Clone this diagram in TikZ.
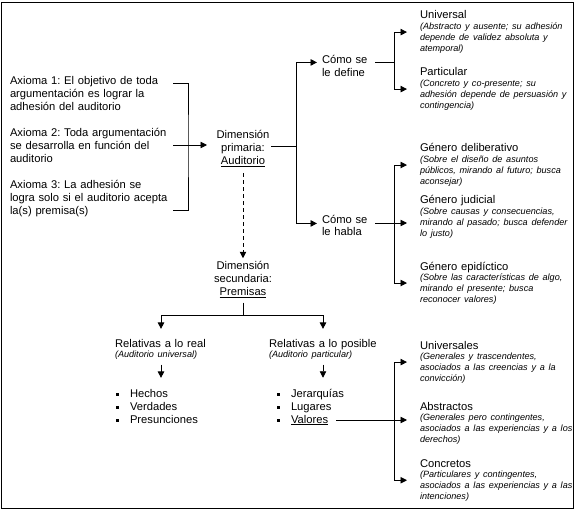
\documentclass[tikz,border=0pt]{standalone}
\usepackage{fontspec}
\setmainfont{Liberation Sans}
\usetikzlibrary{arrows.meta,calc}
\newcommand\mainf{\fontsize{11.2}{13}\selectfont}
\newcommand\descf{\fontsize{9.1}{10.8}\selectfont\itshape}
\newcommand\bsq{\rule[1.5pt]{3pt}{3pt}\hspace{11pt}}
\frenchspacing
\begin{document}
\begin{tikzpicture}[x=1pt,y=-1pt,
  every node/.style={inner sep=0pt, outer sep=0pt},
  txt/.style={anchor=base west, align=left, font=\mainf},
  ctr/.style={anchor=base, align=center, font=\mainf},
  item/.style={anchor=base west, align=left, text width=154pt, font=\mainf},
  ln/.style={line width=0.9pt},
  arr/.style={ln, -{Triangle[length=6.5pt,width=6.5pt]}},
]
\useasboundingbox (0,0) rectangle (578,513);
\draw[line width=1pt] (1.5,2.5) rectangle (573,508);

% left column
\node[txt, text width=163pt] (ax1) at (10,84.5) {Axioma 1: El objetivo de toda\\argumentación es lograr la\\adhesión del auditorio};
\node[txt, text width=163pt] (ax2) at (10,136.5) {Axioma 2: Toda argumentación\\se desarrolla en función del\\auditorio};
\node[txt, text width=163pt] (ax3) at (10,189) {Axioma 3: La adhesión se\\logra solo si el auditorio acepta\\la(s) premisa(s)};

\node[ctr, text width=56pt] (prim) at (243,139) {Dimensión\\primaria:\\\underline{Auditorio}};
\node[ctr, text width=62pt] (sec) at (243,269.5) {Dimensión\\secundaria:\\\underline{Premisas}};

\node[txt, text width=48pt] (def) at (322,64) {Cómo se\\le define};
\node[txt, text width=48pt] (habla) at (322,223) {Cómo se\\le habla};

% right column
\node[item] (uni) at (420,19) {Universal\par{\descf (Abstracto y ausente; su adhesión\\depende de validez absoluta y\\atemporal)\par}};
\node[item] (part) at (420,76) {Particular\par{\descf (Concreto y co-presente; su\\adhesión depende de persuasión y\\contingencia)\par}};
\node[item] (delib) at (420,152) {Género deliberativo\par{\descf (Sobre el diseño de asuntos\\públicos, mirando al futuro; busca\\aconsejar)\par}};
\node[item] (jud) at (420,204) {Género judicial\par{\descf (Sobre causas y consecuencias,\\mirando al pasado; busca defender\\lo justo)\par}};
\node[item] (epid) at (420,270) {Género epidíctico\par{\descf (Sobre las características de algo,\\mirando el presente; busca\\reconocer valores)\par}};
\node[item] (univ) at (420,349) {Universales\par{\descf (Generales y trascendentes,\\asociados a las creencias y a la\\convicción)\par}};
\node[item] (abst) at (420,410) {Abstractos\par{\descf (Generales pero contingentes,\\asociados a las experiencias y a los\\derechos)\par}};
\node[item] (conc) at (420,467) {Concretos\par{\descf (Particulares y contingentes,\\asociados a las experiencias y a las\\intenciones)\par}};

% premisas
\node[txt, text width=92pt] (real) at (115,347) {Relativas a lo real\par{\descf (Auditorio universal)\par}};
\node[txt, text width=108pt] (pos) at (269,347) {Relativas a lo posible\par{\descf (Auditorio particular)\par}};

\node[txt] (b1) at (116,397) {\bsq Hechos};
\node[txt] (b2) at (116,410) {\bsq Verdades};
\node[txt] (b3) at (116,423) {\bsq Presunciones};
\node[txt] (b4) at (277,397) {\bsq Jerarquías};
\node[txt] (b5) at (277,410) {\bsq Lugares};
\node[txt] (b6) at (277,423) {\bsq\underline{Valores}};

% connectors
\coordinate (bt) at (173,83);
\coordinate (bv) at (188,145);
\coordinate (bb) at (173,210);
\coordinate (bm) at (173,145);
\draw[ln] (bt) -| (bv) |- (bb);
\draw[arr, shorten >=8pt] (bm) -- (bm -| prim.west);

\coordinate (j1) at (296,146);
\draw[ln] (prim.east |- j1) -- (j1);
\draw[arr, shorten >=5pt] (j1) |- ([yshift=4pt]def.west);
\draw[arr, shorten >=5pt] (j1) |- ([yshift=2pt]habla.west);

\coordinate (j2) at (394,62);
\draw[ln] ($(def.east |- j2)+(5,0)$) -- (j2);
\draw[arr, shorten >=13pt] (j2) |- (uni.west);
\draw[arr, shorten >=13pt] (j2) |- (part.west);

\coordinate (j3) at (394,223);
\draw[ln] ($(habla.east |- j3)+(5,0)$) -- (j3);
\draw[arr, shorten >=13pt] (j3) |- (delib.west);
\draw[arr, shorten >=13pt] (j3) -- (j3 -| jud.west);
\draw[arr, shorten >=13pt] (j3) |- (epid.west);

\draw[arr, dash pattern=on 4pt off 3pt, shorten <=6pt, shorten >=3pt] (prim.south) -- (sec.north);

\coordinate (j4) at (243,315);
\draw[ln, shorten <=5pt] (sec.south) -- (j4);
\draw[arr, shorten >=10pt] (j4) -| (real.north);
\draw[arr, shorten >=10pt] (j4) -| (pos.north);

\draw[arr, shorten <=5pt, shorten >=11pt] (real.south) -- (real.south |- b1.north);
\draw[arr, shorten <=5pt, shorten >=11pt] (pos.south) -- (pos.south |- b4.north);

\coordinate (vx) at (394,0);
\coordinate (j5) at (b6.east -| vx);
\draw[ln, shorten <=8pt] (b6.east) -- (j5);
\draw[arr, shorten >=13pt] (j5) |- (univ.west);
\draw[arr, shorten >=13pt] (j5) -- (j5 -| abst.west);
\draw[arr, shorten >=13pt] (j5) |- (conc.west);
\end{tikzpicture}
\end{document}
